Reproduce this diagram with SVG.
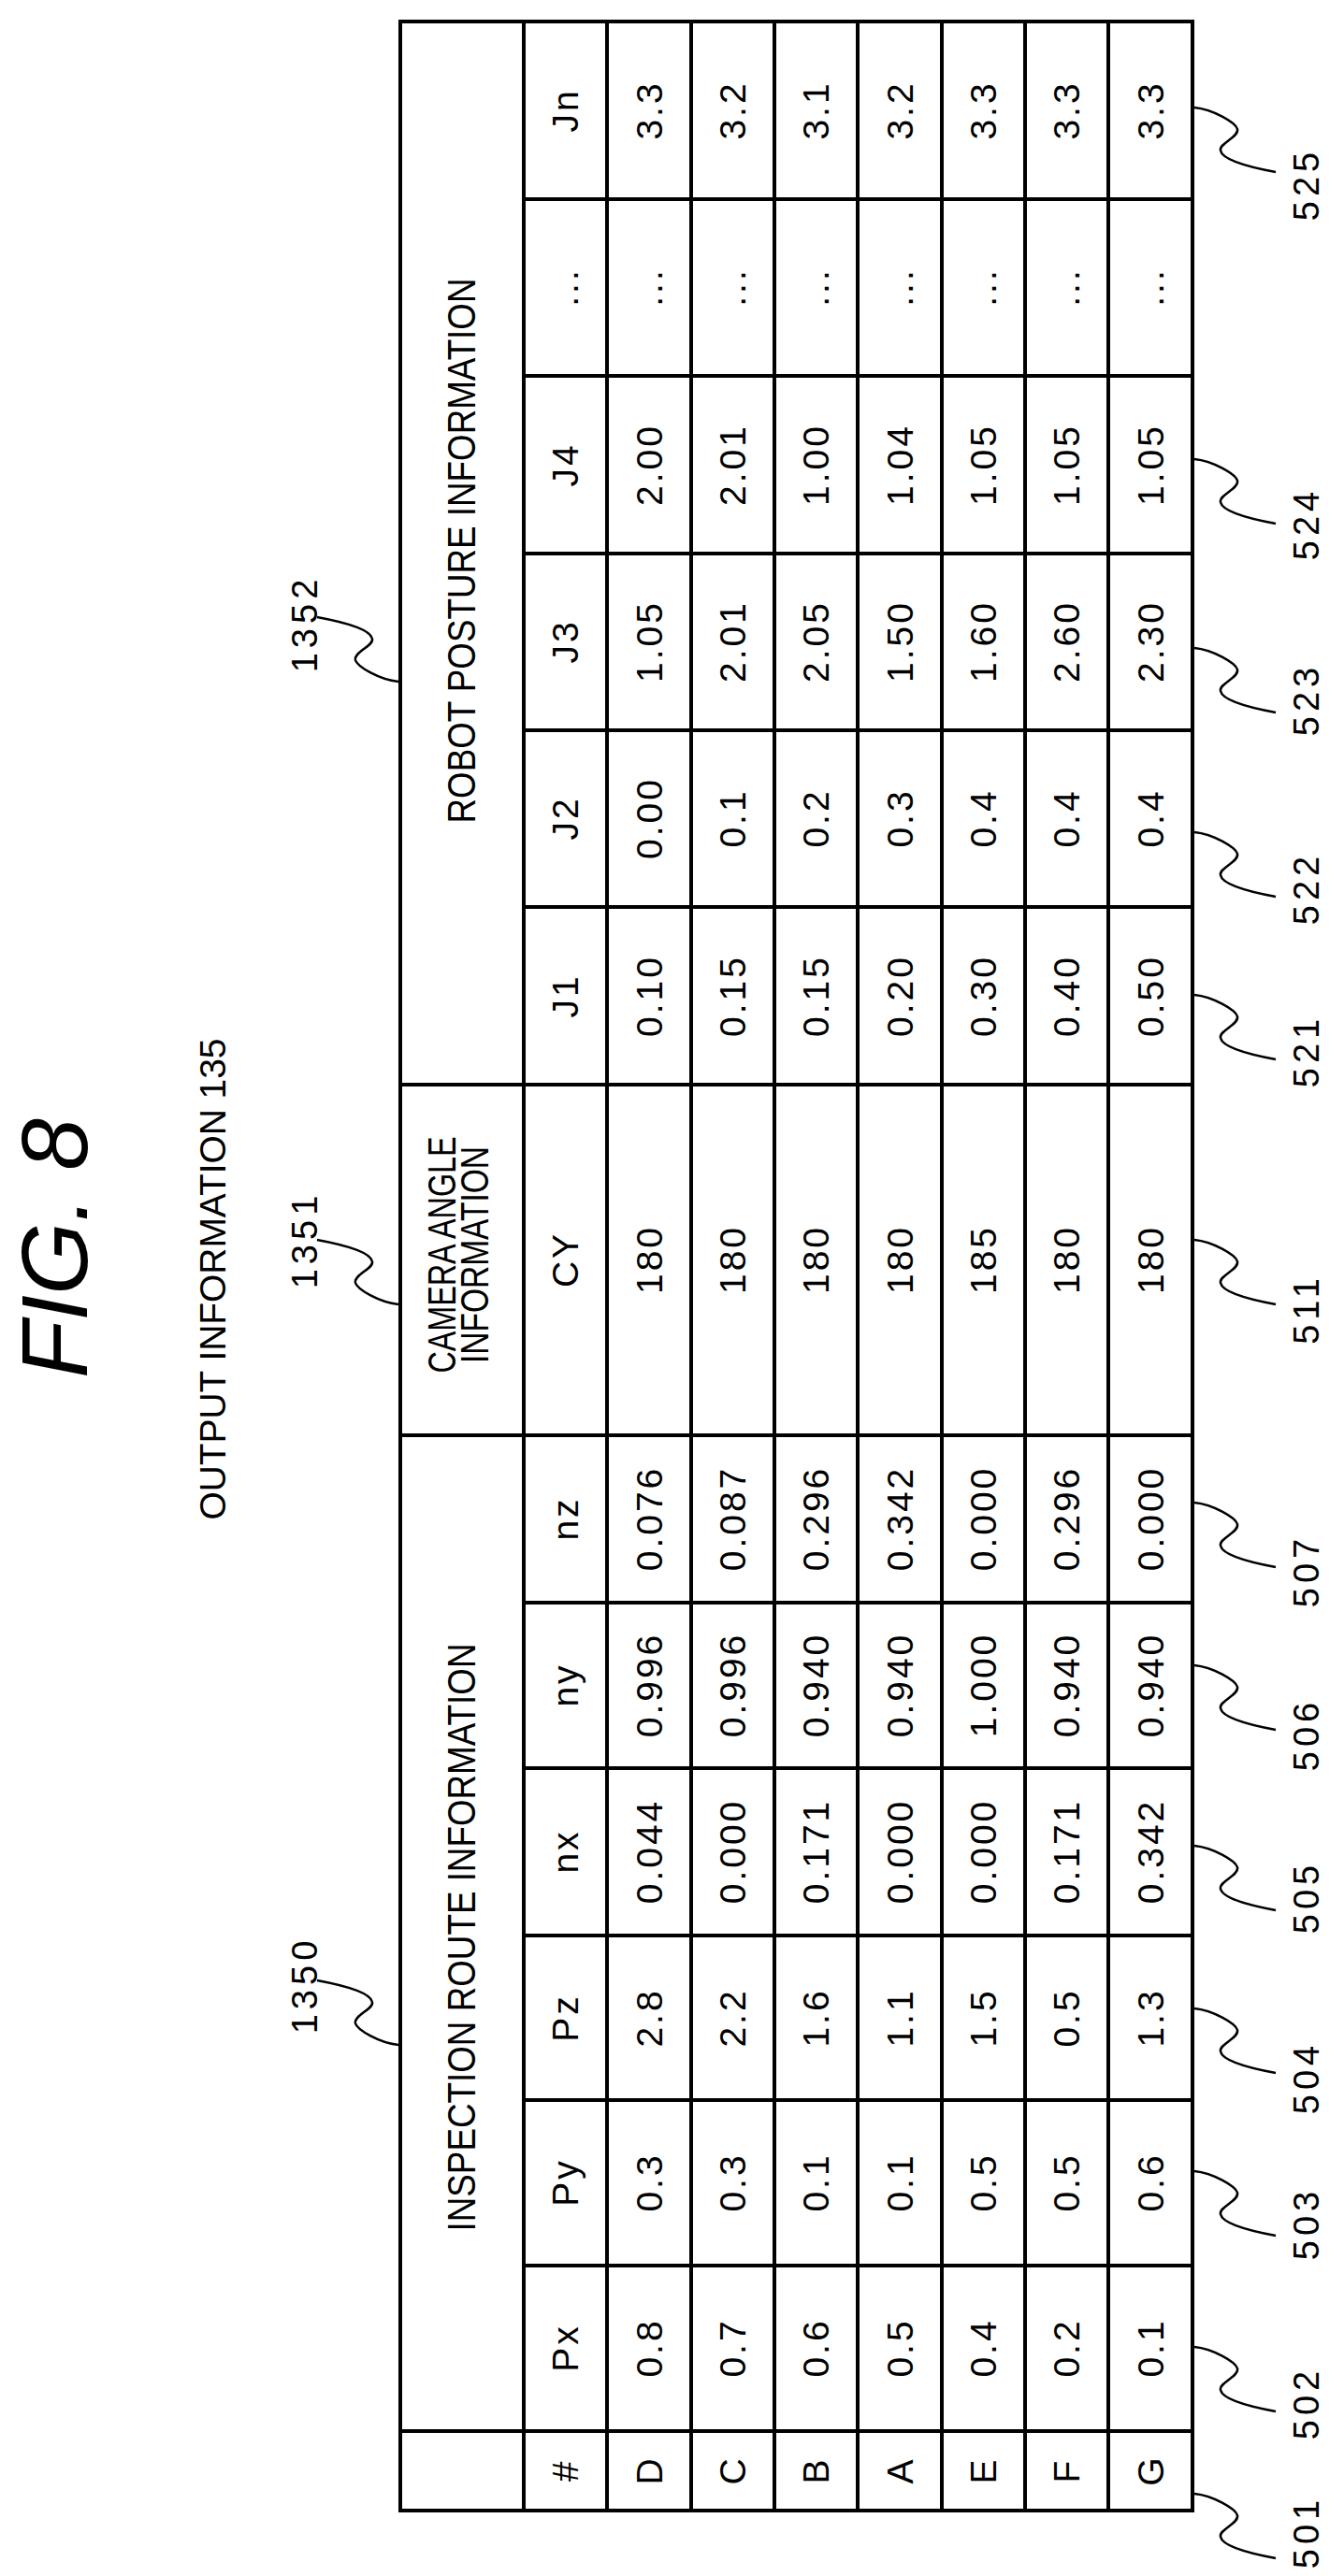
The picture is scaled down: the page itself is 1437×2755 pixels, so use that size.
<svg xmlns="http://www.w3.org/2000/svg" width="1437" height="2755" viewBox="0 0 1437 2755">
<style>
text{font-family:"Liberation Sans",Arial,sans-serif;fill:#000}
.d{font-size:39px;letter-spacing:3px;text-anchor:middle;dominant-baseline:central}
.h{font-size:42px;text-anchor:middle;dominant-baseline:central}
.r{font-size:38px;letter-spacing:5px;text-anchor:middle;dominant-baseline:central}
.g{stroke:#000;stroke-width:4;fill:none}
.sq{stroke:#000;stroke-width:2.5;fill:none}
</style>
<rect width="1437" height="2755" fill="#fff"/>
<g id="title">
<text transform="translate(58,1335) rotate(-90)" font-size="100" font-style="italic" text-anchor="middle" dominant-baseline="central">FIG. 8</text>
<text transform="translate(228,1368) rotate(-90)" font-size="38" text-anchor="middle" dominant-baseline="central" textLength="515" lengthAdjust="spacingAndGlyphs">OUTPUT INFORMATION 135</text>
</g>
<g id="table" class="g">
<rect x="428" y="23" width="847" height="2662"/>
<path d="M560 23V2685M649 23V2685M739 23V2685M828 23V2685M917 23V2685M1007 23V2685M1096 23V2685M1185 23V2685"/>
<path d="M428 1160H1275M428 1535H1275M428 2600H1275"/>
<path d="M560 213H1275M560 402H1275M560 592H1275M560 781H1275M560 970H1275M560 1714H1275M560 1891H1275M560 2070H1275M560 2246H1275M560 2423H1275"/>
</g>
<g id="headers">
<text class="h" transform="translate(493,589) rotate(-90)" textLength="583" lengthAdjust="spacingAndGlyphs">ROBOT POSTURE INFORMATION</text>
<text class="h" transform="translate(472,1342) rotate(-90)" textLength="253" lengthAdjust="spacingAndGlyphs">CAMERA ANGLE</text>
<text class="h" transform="translate(507,1342) rotate(-90)" textLength="232" lengthAdjust="spacingAndGlyphs">INFORMATION</text>
<text class="h" transform="translate(493,2072) rotate(-90)" textLength="629" lengthAdjust="spacingAndGlyphs">INSPECTION ROUTE INFORMATION</text>
</g>
<g id="cells">
<text class="d" transform="translate(604,118) rotate(-90)">Jn</text>
<text class="d" transform="translate(604,307) rotate(-90)">...</text>
<text class="d" transform="translate(604,497) rotate(-90)">J4</text>
<text class="d" transform="translate(604,686) rotate(-90)">J3</text>
<text class="d" transform="translate(604,875) rotate(-90)">J2</text>
<text class="d" transform="translate(604,1065) rotate(-90)">J1</text>
<text class="d" transform="translate(604,1347) rotate(-90)">CY</text>
<text class="d" transform="translate(604,1624) rotate(-90)">nz</text>
<text class="d" transform="translate(604,1802) rotate(-90)">ny</text>
<text class="d" transform="translate(604,1980) rotate(-90)">nx</text>
<text class="d" transform="translate(604,2158) rotate(-90)">Pz</text>
<text class="d" transform="translate(604,2334) rotate(-90)">Py</text>
<text class="d" transform="translate(604,2511) rotate(-90)">Px</text>
<text class="d" transform="translate(604,2642) rotate(-90)">#</text>
</g>
<g id="rows">
<g transform="translate(694,0)">
<text class="d" transform="translate(0,118) rotate(-90)">3.3</text><text class="d" transform="translate(0,307) rotate(-90)">...</text><text class="d" transform="translate(0,497) rotate(-90)">2.00</text><text class="d" transform="translate(0,686) rotate(-90)">1.05</text><text class="d" transform="translate(0,875) rotate(-90)">0.00</text><text class="d" transform="translate(0,1065) rotate(-90)">0.10</text><text class="d" transform="translate(0,1347) rotate(-90)">180</text><text class="d" transform="translate(0,1624) rotate(-90)">0.076</text><text class="d" transform="translate(0,1802) rotate(-90)">0.996</text><text class="d" transform="translate(0,1980) rotate(-90)">0.044</text><text class="d" transform="translate(0,2158) rotate(-90)">2.8</text><text class="d" transform="translate(0,2334) rotate(-90)">0.3</text><text class="d" transform="translate(0,2511) rotate(-90)">0.8</text><text class="d" transform="translate(0,2642) rotate(-90)">D</text>
</g>
<g transform="translate(783,0)">
<text class="d" transform="translate(0,118) rotate(-90)">3.2</text><text class="d" transform="translate(0,307) rotate(-90)">...</text><text class="d" transform="translate(0,497) rotate(-90)">2.01</text><text class="d" transform="translate(0,686) rotate(-90)">2.01</text><text class="d" transform="translate(0,875) rotate(-90)">0.1</text><text class="d" transform="translate(0,1065) rotate(-90)">0.15</text><text class="d" transform="translate(0,1347) rotate(-90)">180</text><text class="d" transform="translate(0,1624) rotate(-90)">0.087</text><text class="d" transform="translate(0,1802) rotate(-90)">0.996</text><text class="d" transform="translate(0,1980) rotate(-90)">0.000</text><text class="d" transform="translate(0,2158) rotate(-90)">2.2</text><text class="d" transform="translate(0,2334) rotate(-90)">0.3</text><text class="d" transform="translate(0,2511) rotate(-90)">0.7</text><text class="d" transform="translate(0,2642) rotate(-90)">C</text>
</g>
<g transform="translate(872,0)">
<text class="d" transform="translate(0,118) rotate(-90)">3.1</text><text class="d" transform="translate(0,307) rotate(-90)">...</text><text class="d" transform="translate(0,497) rotate(-90)">1.00</text><text class="d" transform="translate(0,686) rotate(-90)">2.05</text><text class="d" transform="translate(0,875) rotate(-90)">0.2</text><text class="d" transform="translate(0,1065) rotate(-90)">0.15</text><text class="d" transform="translate(0,1347) rotate(-90)">180</text><text class="d" transform="translate(0,1624) rotate(-90)">0.296</text><text class="d" transform="translate(0,1802) rotate(-90)">0.940</text><text class="d" transform="translate(0,1980) rotate(-90)">0.171</text><text class="d" transform="translate(0,2158) rotate(-90)">1.6</text><text class="d" transform="translate(0,2334) rotate(-90)">0.1</text><text class="d" transform="translate(0,2511) rotate(-90)">0.6</text><text class="d" transform="translate(0,2642) rotate(-90)">B</text>
</g>
<g transform="translate(962,0)">
<text class="d" transform="translate(0,118) rotate(-90)">3.2</text><text class="d" transform="translate(0,307) rotate(-90)">...</text><text class="d" transform="translate(0,497) rotate(-90)">1.04</text><text class="d" transform="translate(0,686) rotate(-90)">1.50</text><text class="d" transform="translate(0,875) rotate(-90)">0.3</text><text class="d" transform="translate(0,1065) rotate(-90)">0.20</text><text class="d" transform="translate(0,1347) rotate(-90)">180</text><text class="d" transform="translate(0,1624) rotate(-90)">0.342</text><text class="d" transform="translate(0,1802) rotate(-90)">0.940</text><text class="d" transform="translate(0,1980) rotate(-90)">0.000</text><text class="d" transform="translate(0,2158) rotate(-90)">1.1</text><text class="d" transform="translate(0,2334) rotate(-90)">0.1</text><text class="d" transform="translate(0,2511) rotate(-90)">0.5</text><text class="d" transform="translate(0,2642) rotate(-90)">A</text>
</g>
<g transform="translate(1051,0)">
<text class="d" transform="translate(0,118) rotate(-90)">3.3</text><text class="d" transform="translate(0,307) rotate(-90)">...</text><text class="d" transform="translate(0,497) rotate(-90)">1.05</text><text class="d" transform="translate(0,686) rotate(-90)">1.60</text><text class="d" transform="translate(0,875) rotate(-90)">0.4</text><text class="d" transform="translate(0,1065) rotate(-90)">0.30</text><text class="d" transform="translate(0,1347) rotate(-90)">185</text><text class="d" transform="translate(0,1624) rotate(-90)">0.000</text><text class="d" transform="translate(0,1802) rotate(-90)">1.000</text><text class="d" transform="translate(0,1980) rotate(-90)">0.000</text><text class="d" transform="translate(0,2158) rotate(-90)">1.5</text><text class="d" transform="translate(0,2334) rotate(-90)">0.5</text><text class="d" transform="translate(0,2511) rotate(-90)">0.4</text><text class="d" transform="translate(0,2642) rotate(-90)">E</text>
</g>
<g transform="translate(1140,0)">
<text class="d" transform="translate(0,118) rotate(-90)">3.3</text><text class="d" transform="translate(0,307) rotate(-90)">...</text><text class="d" transform="translate(0,497) rotate(-90)">1.05</text><text class="d" transform="translate(0,686) rotate(-90)">2.60</text><text class="d" transform="translate(0,875) rotate(-90)">0.4</text><text class="d" transform="translate(0,1065) rotate(-90)">0.40</text><text class="d" transform="translate(0,1347) rotate(-90)">180</text><text class="d" transform="translate(0,1624) rotate(-90)">0.296</text><text class="d" transform="translate(0,1802) rotate(-90)">0.940</text><text class="d" transform="translate(0,1980) rotate(-90)">0.171</text><text class="d" transform="translate(0,2158) rotate(-90)">0.5</text><text class="d" transform="translate(0,2334) rotate(-90)">0.5</text><text class="d" transform="translate(0,2511) rotate(-90)">0.2</text><text class="d" transform="translate(0,2642) rotate(-90)">F</text>
</g>
<g transform="translate(1230,0)">
<text class="d" transform="translate(0,118) rotate(-90)">3.3</text><text class="d" transform="translate(0,307) rotate(-90)">...</text><text class="d" transform="translate(0,497) rotate(-90)">1.05</text><text class="d" transform="translate(0,686) rotate(-90)">2.30</text><text class="d" transform="translate(0,875) rotate(-90)">0.4</text><text class="d" transform="translate(0,1065) rotate(-90)">0.50</text><text class="d" transform="translate(0,1347) rotate(-90)">180</text><text class="d" transform="translate(0,1624) rotate(-90)">0.000</text><text class="d" transform="translate(0,1802) rotate(-90)">0.940</text><text class="d" transform="translate(0,1980) rotate(-90)">0.342</text><text class="d" transform="translate(0,2158) rotate(-90)">1.3</text><text class="d" transform="translate(0,2334) rotate(-90)">0.6</text><text class="d" transform="translate(0,2511) rotate(-90)">0.1</text><text class="d" transform="translate(0,2642) rotate(-90)">G</text>
</g>
</g>
<defs>
<path id="sqb" d="M0 0C20 2 44 16 46 23C48 32 26 38 28 46C30 56 60 64 87 69"/>
<path id="sqt" d="M0 0C-20 -2 -44 -16 -46 -23C-48 -32 -26 -38 -28 -46C-30 -56 -60 -64 -87 -69"/>
</defs>
<g id="connectors" class="sq">
<use href="#sqb" transform="translate(1277,115)"/>
<use href="#sqb" transform="translate(1277,491)"/>
<use href="#sqb" transform="translate(1277,693)"/>
<use href="#sqb" transform="translate(1277,890)"/>
<use href="#sqb" transform="translate(1277,1064)"/>
<use href="#sqb" transform="translate(1277,1326)"/>
<use href="#sqb" transform="translate(1277,1607)"/>
<use href="#sqb" transform="translate(1277,1781)"/>
<use href="#sqb" transform="translate(1277,1974)"/>
<use href="#sqb" transform="translate(1277,2148)"/>
<use href="#sqb" transform="translate(1277,2322)"/>
<use href="#sqb" transform="translate(1277,2510)"/>
<use href="#sqb" transform="translate(1277,2667)"/>
<use href="#sqt" transform="translate(426,729)"/>
<use href="#sqt" transform="translate(426,1395)"/>
<use href="#sqt" transform="translate(426,2187)"/>
</g>
<g id="labels">
<text class="r" transform="translate(1397,197) rotate(-90)">525</text>
<text class="r" transform="translate(1397,560) rotate(-90)">524</text>
<text class="r" transform="translate(1397,748) rotate(-90)">523</text>
<text class="r" transform="translate(1397,950) rotate(-90)">522</text>
<text class="r" transform="translate(1397,1124) rotate(-90)">521</text>
<text class="r" transform="translate(1397,1400) rotate(-90)">511</text>
<text class="r" transform="translate(1397,1680) rotate(-90)">507</text>
<text class="r" transform="translate(1397,1855) rotate(-90)">506</text>
<text class="r" transform="translate(1397,2029) rotate(-90)">505</text>
<text class="r" transform="translate(1397,2222) rotate(-90)">504</text>
<text class="r" transform="translate(1397,2378) rotate(-90)">503</text>
<text class="r" transform="translate(1397,2570) rotate(-90)">502</text>
<text class="r" transform="translate(1397,2708) rotate(-90)">501</text>
<text class="r" transform="translate(326,667) rotate(-90)">1352</text>
<text class="r" transform="translate(326,1326) rotate(-90)">1351</text>
<text class="r" transform="translate(326,2123) rotate(-90)">1350</text>
</g>
</svg>
